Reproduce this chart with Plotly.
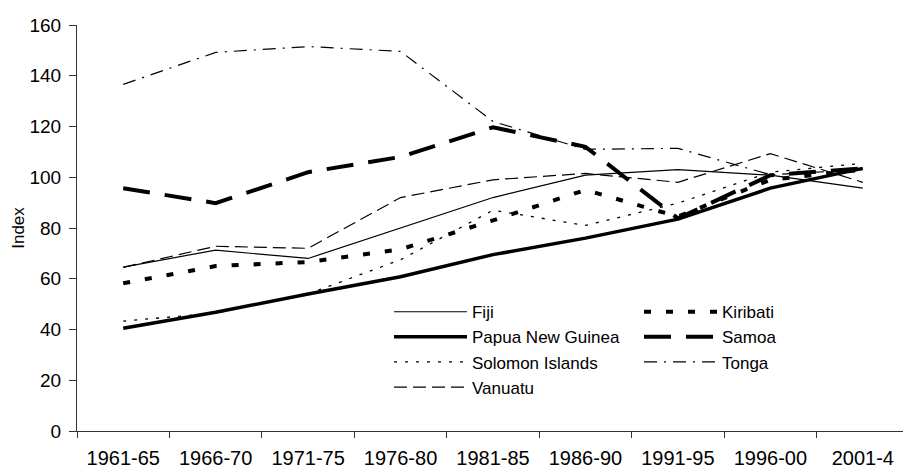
import plotly.graph_objects as go

periods = ["1961-65", "1966-70", "1971-75", "1976-80", "1981-85",
           "1986-90", "1991-95", "1996-00", "2001-4"]

fiji = [64.6, 71.3, 68.0, 80.0, 92.0, 100.8, 103.0, 100.8, 95.7]
kiribati = [58.2, 65.0, 66.6, 71.6, 83.0, 95.0, 84.5, 99.0, 103.0]
png = [40.5, 46.8, 54.0, 60.8, 69.5, 76.0, 83.5, 95.7, 103.5]
samoa = [95.7, 89.8, 102.0, 108.0, 119.7, 112.0, 83.8, 100.8, 103.5]
solomon = [43.3, 46.5, 54.0, 67.5, 87.0, 81.0, 89.8, 102.0, 105.5]
tonga = [136.6, 149.2, 151.5, 149.6, 122.0, 111.0, 111.4, 101.0, 103.0]
vanuatu = [64.5, 72.8, 72.0, 92.0, 99.0, 101.5, 98.0, 109.3, 98.0]

series_names = ["Fiji", "Kiribati", "Papua New Guinea", "Samoa",
                "Solomon Islands", "Tonga", "Vanuatu"]
series_values = [fiji, kiribati, png, samoa, solomon, tonga, vanuatu]
series_styles = [
    dict(width=1.2, dash="solid", legend="legend"),
    dict(width=4, dash="7px,15px", legend="legend2"),
    dict(width=3.5, dash="solid", legend="legend"),
    dict(width=4, dash="27px,15px", legend="legend2"),
    dict(width=1.3, dash="3px,8px", legend="legend"),
    dict(width=1.2, dash="13px,7px,2px,7px", legend="legend2"),
    dict(width=1.2, dash="13px,6px", legend="legend"),
]

fig = go.Figure()
for name, vals, st in zip(series_names, series_values, series_styles):
    fig.add_trace(go.Scatter(
        x=periods, y=vals, name=name, mode="lines",
        legend=st["legend"],
        line=dict(color="black", width=st["width"], dash=st["dash"]),
    ))

FONT = "Liberation Sans, Arial, sans-serif"
legend_common = dict(
    orientation="v", xanchor="left", yanchor="top",
    font=dict(size=17, family=FONT, color="black"),
    bgcolor="rgba(0,0,0,0)", itemwidth=73, traceorder="normal",
)
fig.update_layout(
    width=903, height=470,
    paper_bgcolor="white", plot_bgcolor="white",
    margin=dict(l=77, r=0, t=25, b=39, autoexpand=False),
    font=dict(family=FONT, color="black"),
    showlegend=True,
    legend=dict(x=0.3777, y=0.337, **legend_common),
    legend2=dict(x=0.6804, y=0.337, **legend_common),
    xaxis=dict(
        type="category",
        range=[-0.5, 8.435],
        showline=True, linecolor="#333", linewidth=1,
        ticks="outside", tickson="boundaries", ticklen=6, tickcolor="#333",
        tickfont=dict(size=20, family=FONT), tickangle=0,
        ticklabelstandoff=9,
        showgrid=False, zeroline=False, automargin=False,
    ),
    yaxis=dict(
        range=[0, 160], tickvals=[0, 20, 40, 60, 80, 100, 120, 140, 160],
        showline=True, linecolor="#333", linewidth=1,
        ticks="outside", ticklen=7, tickcolor="#333",
        tickfont=dict(size=19, family=FONT),
        ticklabelstandoff=4,
        showgrid=False, zeroline=False, automargin=False,
        title=dict(text="Index", font=dict(size=17, family=FONT), standoff=0),
    ),
)

fig.write_html("out.html",
               config={"displayModeBar": False},
               post_script="document.body.style.margin='0';")
